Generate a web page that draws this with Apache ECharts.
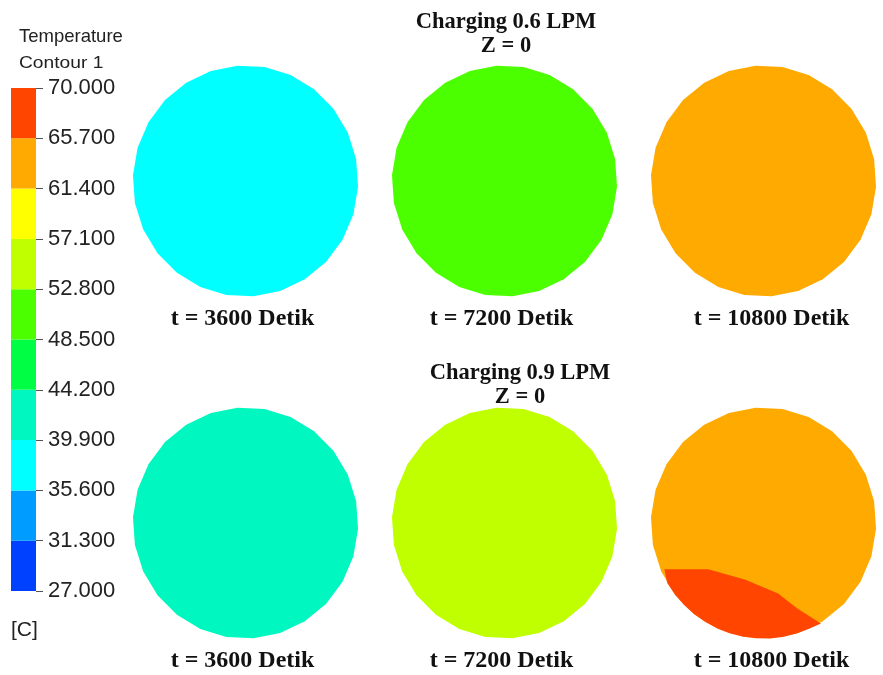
<!DOCTYPE html>
<html><head><meta charset="utf-8">
<script src="https://cdn.jsdelivr.net/npm/echarts@6/dist/echarts.min.js"></script>
<style>html,body{margin:0;padding:0;background:#fff}#c{width:883px;height:675px}</style>
</head><body><div id="c"></div>
<script>
// ---- data ----
const levels = [27, 31.3, 35.6, 39.9, 44.2, 48.5, 52.8, 57.1, 61.4, 65.7, 70];
const levelLabels = ['27.000','31.300','35.600','39.900','44.200','48.500','52.800','57.100','61.400','65.700','70.000'];
const bandColors = ['#0040ff','#009cff','#00ffff','#00f7c0','#00ff44','#4cff00','#bfff00','#ffff00','#ffaa00','#ff4500'];
const times = ['3600', '7200', '10800'];
const rates = ['Charging 0.6 LPM', 'Charging 0.9 LPM'];
const planeLabel = 'Z = 0';
const temp06 = [38.0, 50.5, 63.5];   // bulk temperature per time, 0.6 LPM
const temp09 = [42.0, 55.0, 63.5];   // bulk temperature per time, 0.9 LPM
const hot06 = [null, null, null];    // hot-zone temperature (lower region)
const hot09 = [null, null, 67.5];
// hot-zone boundary shape (unit circle, y down)
const hotEdge = [[-0.88,0.40],[-0.49,0.40],[-0.16,0.49],[0.13,0.61],[0.30,0.74],[0.51,0.87]];

function colorOf(t) {
  for (let i = 0; i < bandColors.length; i++) {
    if (t >= levels[i] && t < levels[i + 1]) return bandColors[i];
  }
  return bandColors[bandColors.length - 1];
}

const circleData = [];
[temp06, temp09].forEach((arr, row) => {
  const hots = row === 0 ? hot06 : hot09;
  arr.forEach((t, col) => circleData.push([col, row, t, hots[col] == null ? '-' : hots[col]]));
});
const bandData = bandColors.map((c, i) => [0, i]);

const chart = echarts.init(document.getElementById('c'), null, {renderer: 'canvas'});
const NS = 26;
function polyCircle(cx, cy, rx, ry) {
  const pts = [];
  for (let k = 0; k < NS; k++) {
    const a = Math.PI * 2 * k / NS + 0.05;
    pts.push([cx + rx * Math.cos(a), cy + ry * Math.sin(a)]);
  }
  return pts;
}
const axisFont = '"Liberation Sans"';
const serif = '"Liberation Serif"';

chart.setOption({
  animation: false,
  backgroundColor: '#ffffff',
  grid: [
    {left: 116, right: -10, top: 10, bottom: -19, outerBoundsMode: 'none', containLabel: false},
    {left: 11, width: 25, top: 88, height: 503}
  ],
  xAxis: [
    {gridIndex: 0, type: 'category', data: times, show: false},
    {gridIndex: 1, type: 'category', data: ['band'], show: false, boundaryGap: true}
  ],
  yAxis: [
    {gridIndex: 0, type: 'category', data: rates, inverse: true, show: false},
    {gridIndex: 1, type: 'value', min: 0, max: 10, interval: 1, position: 'right',
     axisLine: {show: false}, splitLine: {show: false},
     axisTick: {show: true, length: 7, lineStyle: {color: '#555', width: 1}},
     axisLabel: {margin: 12, color: '#222', fontSize: 22, fontFamily: 'Liberation Sans',
       padding: [4, 0, 0, 0], formatter: v => levelLabels[v]}}
  ],
  series: [
    {
      type: 'custom', xAxisIndex: 1, yAxisIndex: 1, data: bandData,
      renderItem(params, api) {
        const i = api.value(1);
        const p0 = api.coord([0, i]);
        const p1 = api.coord([0, i + 1]);
        const w = api.size([1, 0])[0];
        return {type: 'rect', shape: {x: p0[0] - w / 2, y: p1[1], width: w, height: p0[1] - p1[1]},
          style: {fill: bandColors[i]}};
      }
    },
    {
      type: 'custom', xAxisIndex: 0, yAxisIndex: 0, data: circleData,
      renderItem(params, api) {
        const col = api.value(0), row = api.value(1);
        const c = api.coord([col, row]);
        const sz = api.size([1, 1]);
        const rx = sz[0] * 0.435, ry = sz[1] * 0.338;
        const t = api.value(2);
        const hot = api.value(3);
        const children = [{type: 'polygon', shape: {points: polyCircle(c[0], c[1], rx, ry)},
          style: {fill: colorOf(t)}}];
        if (!isNaN(hot)) {
          const pts = hotEdge.map(p => [c[0] + p[0] * rx, c[1] + p[1] * ry]);
          const last = hotEdge[hotEdge.length - 1], first = hotEdge[0];
          const a0 = Math.atan2(last[1], last[0]), a1 = Math.atan2(first[1], first[0]);
          const steps = 14;
          for (let k = 1; k < steps; k++) {
            const a = a0 + (a1 - a0) * k / steps;
            pts.push([c[0] + rx * Math.cos(a), c[1] + ry * Math.sin(a)]);
          }
          children.push({type: 'polygon', shape: {points: pts}, style: {fill: colorOf(hot)}});
        }
        children.push({type: 'text', x: c[0] + (col === 2 ? 8 : -3), y: c[1] + ry + 22,
          style: {text: 't = ' + times[col] + ' Detik', align: 'center', verticalAlign: 'middle',
            font: 'bold 24px ' + serif, fill: '#111'}});
        return {type: 'group', children};
      }
    }
  ],
  graphic: [
    {type: 'text', x: 19, y: 37, style: {text: 'Temperature', verticalAlign: 'middle', font: '18.5px ' + axisFont, fill: '#222'}},
    {type: 'text', x: 19, y: 64, scaleX: 1.2, style: {text: 'Contour 1', verticalAlign: 'middle', font: '16px ' + axisFont, fill: '#222'}},
    {type: 'text', x: 11, y: 630, style: {text: '[C]', verticalAlign: 'middle', font: '21px ' + axisFont, fill: '#222'}},
    {type: 'text', x: 506, y: 22, style: {text: rates[0], align: 'center', verticalAlign: 'middle', font: 'bold 22.5px ' + serif, fill: '#111'}},
    {type: 'text', x: 506, y: 46, style: {text: planeLabel, align: 'center', verticalAlign: 'middle', font: 'bold 22.5px ' + serif, fill: '#111'}},
    {type: 'text', x: 520, y: 373, style: {text: rates[1], align: 'center', verticalAlign: 'middle', font: 'bold 22.5px ' + serif, fill: '#111'}},
    {type: 'text', x: 520, y: 397, style: {text: planeLabel, align: 'center', verticalAlign: 'middle', font: 'bold 22.5px ' + serif, fill: '#111'}}
  ]
});
</script></body></html>
